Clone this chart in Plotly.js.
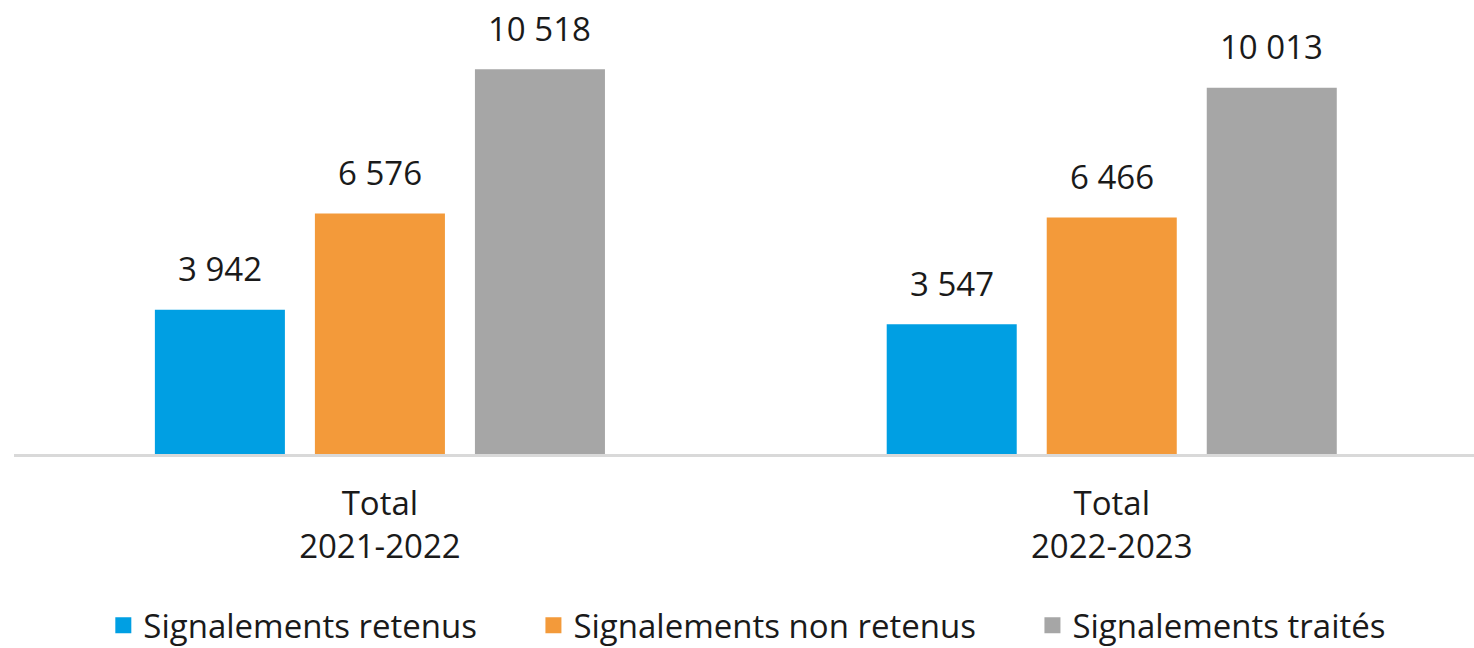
<!DOCTYPE html>
<html><head><meta charset="utf-8">
<script src="https://cdn.plot.ly/plotly-3.0.1.min.js"></script>
<style>html,body{margin:0;padding:0;background:#fff}#chart{width:1474px;height:648px}</style>
</head><body><div id="chart"></div>
<script>
const categories = ["Total<br>2021-2022", "Total<br>2022-2023"];
const seriesNames = ["Signalements retenus", "Signalements non retenus", "Signalements traités"];
const retenus = [3942, 3547];
const nonRetenus = [6576, 6466];
const traites = [10518, 10013];
const colors = ["#009FE3", "#F39A3A", "#A6A6A6"];

const FONT = "Open Sans, Liberation Sans, sans-serif";
const FS = 33;
const bargap = 0.344;
const bargroupgap = 0.1875;
const series = [retenus, nonRetenus, traites];

const fmt = v => String(v).replace(/\B(?=(\d{3})+(?!\d))/g, " ");

const traces = series.map((vals, j) => ({
  type: "bar", name: seriesNames[j], x: categories, y: vals,
  marker: {color: colors[j]}, hoverinfo: "none", showlegend: false
}));
// legend-only entries with larger square symbols
const PAD = "\u00a0\u00a0\u00a0\u00a0\u00a0\u00a0";
series.forEach((vals, j) => {
  traces.push({
    type: "scatter", mode: "markers", name: seriesNames[j] + (j < series.length - 1 ? PAD : ""),
    x: [categories[0]], y: [null],
    marker: {symbol: "square", size: 16, color: colors[j]}, hoverinfo: "none"
  });
});

const slot = (1 - bargap) / series.length;
const annotations = [];
series.forEach((vals, j) => {
  vals.forEach((v, i) => {
    annotations.push({
      xref: "x", yref: "y", x: i + (j - (series.length - 1) / 2) * slot, y: v,
      text: fmt(v),
      showarrow: false, yanchor: "middle", yshift: 41,
      font: {family: FONT, size: FS, color: "#1a1a1a"}
    });
  });
});

const layout = {
  width: 1474, height: 648,
  margin: {l: 14, r: 0, t: 15, b: 194},
  paper_bgcolor: "#fff", plot_bgcolor: "#fff",
  barmode: "group", bargap: bargap, bargroupgap: bargroupgap,
  font: {family: FONT, size: FS, color: "#1a1a1a"},
  xaxis: {
    type: "category", range: [-0.5, 1.495],
    showline: true, linecolor: "#D9D9D9", linewidth: 3,
    ticks: "", showgrid: false, zeroline: false, ticklabelstandoff: 18,
    tickfont: {family: FONT, size: FS, color: "#1a1a1a"}
  },
  yaxis: {range: [0, 12000], visible: false, showgrid: false, zeroline: false},
  showlegend: true,
  legend: {
    orientation: "h", x: 0.507, xanchor: "center", xref: "container",
    y: 0.035, yref: "container", yanchor: "middle", itemsizing: "trace",
    font: {family: FONT, size: FS, color: "#1a1a1a"}
  },
  annotations: annotations
};
Plotly.newPlot("chart", traces, layout, {displayModeBar: false, staticPlot: true});
</script></body></html>
